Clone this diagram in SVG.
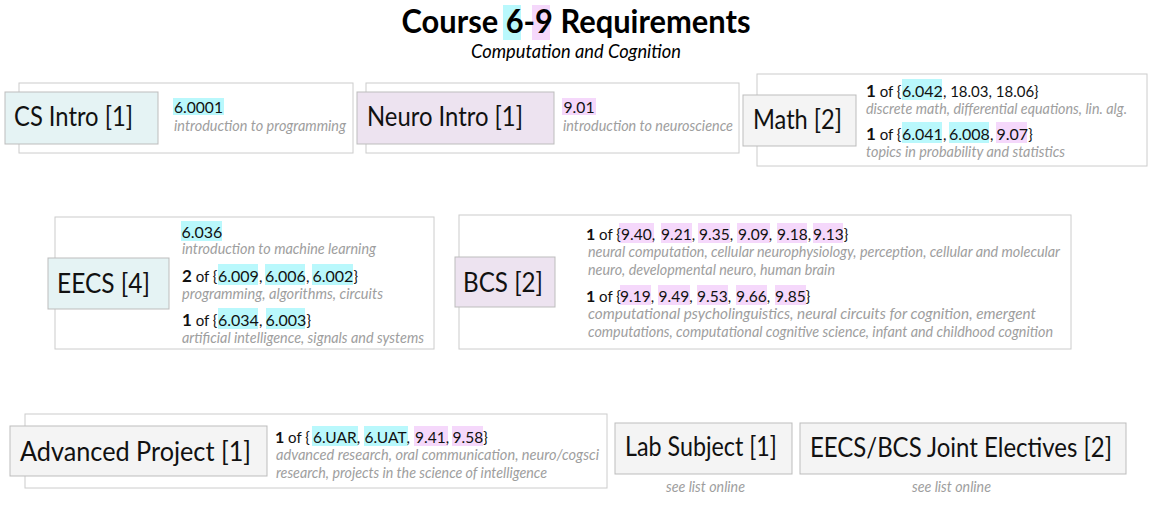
<svg xmlns="http://www.w3.org/2000/svg" width="1152" height="507" viewBox="0 0 1152 507">
<style>
text{font-family:Lato,"Open Sans","Liberation Sans",sans-serif;}
.outer{fill:#fff;stroke:#cccccc;stroke-width:1;}
.lab{stroke:#bdbdbd;stroke-width:1;}
.c6{fill:#e5f3f4;}
.c9{fill:#ede3f0;}
.cg{fill:#f4f4f4;}
.h6{fill:#b9f8fc;}
.h9{fill:#f5d8fb;}
.ltxt{font-size:26px;fill:#111;}
.code{font-size:15px;fill:#111;}
.k{font-size:16px;}
.bk{font-size:15.5px;}
.b{font-weight:bold;font-size:17px;}
.bs{font-weight:bold;font-size:16px;}
.desc{font-size:15px;font-style:italic;fill:#9e9e9e;}
</style>
<rect width="1152" height="507" fill="#fff"/>
<g id="title">
<rect class="h6" x="503" y="5" width="18" height="35"/>
<rect class="h9" x="532" y="5" width="18" height="35"/>
<text x="576" y="33" text-anchor="middle" font-size="33" font-weight="bold" fill="#000" textLength="349" lengthAdjust="spacingAndGlyphs">Course 6-9 Requirements</text>
<text x="576" y="58" text-anchor="middle" font-size="18.5" font-style="italic" fill="#000" textLength="210" lengthAdjust="spacingAndGlyphs">Computation and Cognition</text>
</g>
<g id="connectors"></g>
<g id="cs-intro">
<rect class="outer" x="19" y="83" width="334" height="70"/>
<rect class="lab c6" x="5" y="92" width="153" height="52"/>
<text class="ltxt" x="14" y="126" textLength="119" lengthAdjust="spacingAndGlyphs">CS Intro [1]</text>
<rect class="h6" x="173" y="98" width="51" height="17"/>
<text class="code k" x="174" y="113" textLength="49" lengthAdjust="spacingAndGlyphs">6.0001</text>
<text class="desc" x="174" y="131" textLength="172" lengthAdjust="spacingAndGlyphs">introduction to programming</text>
</g>
<g id="neuro-intro">
<rect class="outer" x="366" y="83" width="373" height="70"/>
<rect class="lab c9" x="357" y="92" width="197" height="52"/>
<text class="ltxt" x="367" y="126" textLength="156" lengthAdjust="spacingAndGlyphs">Neuro Intro [1]</text>
<rect class="h9" x="562" y="98" width="34" height="17"/>
<text class="code k" x="563.5" y="113" textLength="31" lengthAdjust="spacingAndGlyphs">9.01</text>
<text class="desc" x="563" y="131" textLength="170" lengthAdjust="spacingAndGlyphs">introduction to neuroscience</text>
</g>
<g id="math">
<rect class="outer" x="757" y="74" width="390" height="92"/>
<rect class="lab cg" x="743" y="95" width="113" height="51"/>
<text class="ltxt" x="753" y="129" textLength="89" lengthAdjust="spacingAndGlyphs">Math [2]</text>
<rect class="h6" x="902" y="79" width="40" height="21"/>
<text class="code" x="866" y="97"><tspan class="b">1</tspan> of {<tspan class="k" x="902">6.042</tspan>, 18.03, 18.06}</text>
<text class="desc" x="866" y="114" textLength="261" lengthAdjust="spacingAndGlyphs">discrete math, differential equations, lin. alg.</text>
<rect class="h6" x="902" y="122" width="40" height="21"/>
<rect class="h6" x="949" y="122" width="40" height="21"/>
<rect class="h9" x="996" y="122" width="31" height="21"/>
<text class="code" x="866" y="140"><tspan class="b">1</tspan> of {<tspan class="k" x="902">6.041</tspan>, <tspan class="k" x="949">6.008</tspan>, <tspan class="k" x="996.5">9.07</tspan>}</text>
<text class="desc" x="866" y="157" textLength="199" lengthAdjust="spacingAndGlyphs">topics in probability and statistics</text>
</g>
<g id="eecs">
<rect class="outer" x="55" y="217" width="379" height="132"/>
<rect class="lab c6" x="48" y="258" width="121" height="51"/>
<text class="ltxt" x="57" y="293" textLength="93" lengthAdjust="spacingAndGlyphs">EECS [4]</text>
<rect class="h6" x="181" y="221" width="41" height="20"/>
<text class="code k" x="181.5" y="238">6.036</text>
<text class="desc" x="182" y="254" textLength="194" lengthAdjust="spacingAndGlyphs">introduction to machine learning</text>
<rect class="h6" x="218" y="264" width="40" height="21"/>
<rect class="h6" x="265" y="264" width="40" height="21"/>
<rect class="h6" x="312" y="264" width="41" height="21"/>
<text class="code" x="182" y="282"><tspan class="b">2</tspan> of {<tspan class="k" x="218">6.009</tspan>, <tspan class="k" x="265">6.006</tspan>, <tspan class="k" x="312.5">6.002</tspan>}</text>
<text class="desc" x="182" y="299" textLength="201" lengthAdjust="spacingAndGlyphs">programming, algorithms,  circuits</text>
<rect class="h6" x="218" y="308" width="40" height="21"/>
<rect class="h6" x="266" y="308" width="39" height="21"/>
<text class="code" x="182" y="326"><tspan class="b">1</tspan> of {<tspan class="k" x="218">6.034</tspan>, <tspan class="k" x="265.5">6.003</tspan>}</text>
<text class="desc" x="182" y="343" textLength="242" lengthAdjust="spacingAndGlyphs">artificial intelligence, signals and systems</text>
</g>
<g id="bcs">
<rect class="outer" x="459" y="215" width="612" height="134"/>
<rect class="lab c9" x="455" y="257" width="100" height="50"/>
<text class="ltxt" x="463" y="292" textLength="80" lengthAdjust="spacingAndGlyphs">BCS [2]</text>
<rect class="h9" x="619" y="223" width="35" height="20"/>
<rect class="h9" x="661" y="223" width="31" height="20"/>
<rect class="h9" x="698" y="223" width="32" height="20"/>
<rect class="h9" x="737" y="223" width="33" height="20"/>
<rect class="h9" x="777" y="223" width="30" height="20"/>
<rect class="h9" x="813" y="223" width="30" height="20"/>
<text class="code" x="586" y="240" font-size="14.5"><tspan class="bs">1</tspan> of {<tspan class="bk" x="621">9.40</tspan>,<tspan class="bk" x="661">9.21</tspan>,<tspan class="bk" x="699">9.35</tspan>,<tspan class="bk" x="738">9.09</tspan>,<tspan class="bk" x="777">9.18</tspan>,<tspan class="bk" x="813">9.13</tspan>}</text>
<text class="desc" x="588" y="257" textLength="472" lengthAdjust="spacingAndGlyphs">neural computation, cellular neurophysiology, perception, cellular and molecular</text>
<text class="desc" x="588" y="275" textLength="247" lengthAdjust="spacingAndGlyphs">neuro, developmental neuro, human brain</text>
<rect class="h9" x="620" y="285" width="31" height="20"/>
<rect class="h9" x="658" y="285" width="32" height="20"/>
<rect class="h9" x="697" y="285" width="31" height="20"/>
<rect class="h9" x="736" y="285" width="31" height="20"/>
<rect class="h9" x="775" y="285" width="31" height="20"/>
<text class="code" x="586" y="302" font-size="14.5"><tspan class="bs">1</tspan> of {<tspan class="bk" x="620">9.19</tspan>,<tspan class="bk" x="658.5">9.49</tspan>,<tspan class="bk" x="697">9.53</tspan>,<tspan class="bk" x="736">9.66</tspan>,<tspan class="bk" x="775">9.85</tspan>}</text>
<text class="desc" x="588" y="319" textLength="448" lengthAdjust="spacingAndGlyphs">computational psycholinguistics, neural circuits for cognition, emergent</text>
<text class="desc" x="588" y="337" textLength="465" lengthAdjust="spacingAndGlyphs">computations, computational cognitive science, infant and childhood cognition</text>
</g>
<g id="advanced-project">
<rect class="outer" x="25" y="414" width="582" height="74"/>
<rect class="lab cg" x="10" y="426" width="257" height="50"/>
<text class="ltxt" x="20" y="461" textLength="231" lengthAdjust="spacingAndGlyphs">Advanced Project [1]</text>
<rect class="h6" x="312" y="426" width="46" height="20"/>
<rect class="h6" x="364" y="426" width="44" height="20"/>
<rect class="h9" x="414" y="426" width="34" height="20"/>
<rect class="h9" x="452" y="426" width="31" height="20"/>
<text class="code" x="275" y="443" font-size="14.5"><tspan class="bs">1</tspan> of {<tspan class="bk" x="313">6.UAR</tspan>,<tspan class="bk" x="364.5">6.UAT</tspan>,<tspan class="bk" x="415">9.41</tspan>,<tspan class="bk" x="452.5">9.58</tspan>}</text>
<text class="desc" x="276" y="460" textLength="323" lengthAdjust="spacingAndGlyphs">advanced research, oral communication, neuro/cogsci</text>
<text class="desc" x="276" y="478" textLength="271" lengthAdjust="spacingAndGlyphs">research, projects in the science of intelligence</text>
</g>
<g id="lab-subject">
<rect class="lab cg" x="615" y="423" width="177" height="51"/>
<text class="ltxt" x="625" y="456" textLength="152" lengthAdjust="spacingAndGlyphs">Lab Subject [1]</text>
<text class="desc" x="705.5" y="492" text-anchor="middle" textLength="79" lengthAdjust="spacingAndGlyphs">see list online</text>
</g>
<g id="joint-electives">
<rect class="lab cg" x="800" y="423" width="326" height="51"/>
<text class="ltxt" x="810" y="457" textLength="302" lengthAdjust="spacingAndGlyphs">EECS/BCS Joint Electives [2]</text>
<text class="desc" x="951.5" y="492" text-anchor="middle" textLength="79" lengthAdjust="spacingAndGlyphs">see list online</text>
</g>
</svg>
